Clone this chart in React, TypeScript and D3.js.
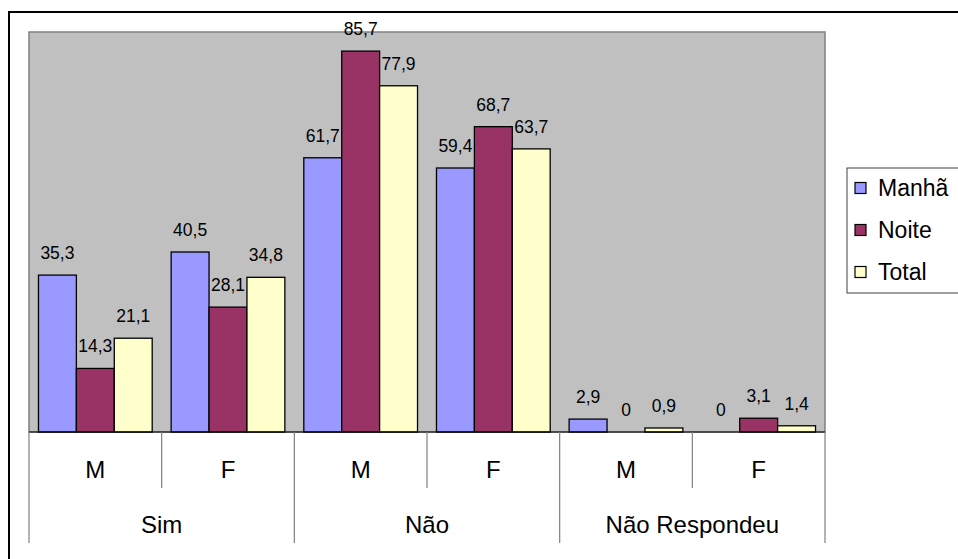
import React from "react";
import * as d3 from "d3";

const subCategories = ["M", "F", "M", "F", "M", "F"];
const groups = ["Sim", "Não", "Não Respondeu"];
const seriesNames = ["Manhã", "Noite", "Total"];
const manha = [35.3, 40.5, 61.7, 59.4, 2.9, 0];
const noite = [14.3, 28.1, 85.7, 68.7, 0, 3.1];
const total = [21.1, 34.8, 77.9, 63.7, 0.9, 1.4];
const seriesColors = ["#9999FF", "#993366", "#FFFFCC"];
const yMax = 90;

const FONT = "'Liberation Sans', Arial, sans-serif";

function fmt(v: number) {
  if (v === 0) return "0";
  return v.toFixed(1).replace(".", ",");
}

export default function App() {
  const W = 958;
  const H = 559;
  const plot = { x0: 29, x1: 825, y0: 32, y1: 432 };
  const series = [manha, noite, total];

  const x = d3
    .scaleBand<number>()
    .domain(subCategories.map((_, i) => i))
    .range([plot.x0, plot.x1])
    .padding(0);
  const bw = x.bandwidth();
  const barW = bw / 3.5;
  const xs = d3
    .scaleBand<number>()
    .domain([0, 1, 2])
    .range([barW * 0.25, bw - barW * 0.25])
    .padding(0);
  const y = d3.scaleLinear().domain([0, yMax]).range([plot.y1, plot.y0]);

  const groupW = (plot.x1 - plot.x0) / groups.length;

  return (
    <svg
      width={W}
      height={H}
      style={{ position: "absolute", left: 0, top: 0, fontFamily: FONT }}
    >
      <rect x={0} y={0} width={W} height={H} fill="#fff" />
      {/* outer chart border */}
      <rect x={9} y={12} width={1100} height={700} fill="none" stroke="#000" strokeWidth={2} />
      {/* plot area */}
      <rect
        x={plot.x0}
        y={plot.y0}
        width={plot.x1 - plot.x0}
        height={plot.y1 - plot.y0}
        fill="#C0C0C0"
        stroke="#808080"
        strokeWidth={1.5}
      />
      {/* bars */}
      {series.map((vals, si) =>
        vals.map((v, ci) => {
          if (v === 0) return null;
          const bx = (x(ci) as number) + (xs(si) as number);
          const by = y(v);
          return (
            <rect
              key={`b${si}-${ci}`}
              x={bx}
              y={by}
              width={xs.bandwidth()}
              height={plot.y1 - by}
              fill={seriesColors[si]}
              stroke="#000"
              strokeWidth={1.3}
            />
          );
        })
      )}
      {/* data labels */}
      {series.map((vals, si) =>
        vals.map((v, ci) => {
          const cx = (x(ci) as number) + (xs(si) as number) + xs.bandwidth() / 2;
          return (
            <text
              key={`l${si}-${ci}`}
              x={cx}
              y={y(v) - 16}
              textAnchor="middle"
              fontSize={17.5}
              fill="#000"
            >
              {fmt(v)}
            </text>
          );
        })
      )}
      {/* baseline */}
      <line x1={plot.x0} x2={plot.x1} y1={plot.y1} y2={plot.y1} stroke="#000" strokeWidth={1.2} />
      {/* category separators */}
      {d3.range(subCategories.length + 1).map((i) => {
        const xx = plot.x0 + i * bw;
        const isGroup = i % 2 === 0;
        return (
          <line
            key={`s${i}`}
            x1={xx}
            x2={xx}
            y1={plot.y1}
            y2={isGroup ? 543 : 488}
            stroke="#808080"
            strokeWidth={1.2}
          />
        );
      })}
      {subCategories.map((c, i) => (
        <text
          key={`c${i}`}
          x={(x(i) as number) + bw / 2}
          y={478}
          textAnchor="middle"
          fontSize={24}
          fill="#000"
        >
          {c}
        </text>
      ))}
      {groups.map((g, i) => (
        <text
          key={`g${i}`}
          x={plot.x0 + groupW * (i + 0.5)}
          y={533}
          textAnchor="middle"
          fontSize={24}
          fill="#000"
        >
          {g}
        </text>
      ))}
      {/* legend */}
      <rect x={847} y={168} width={200} height={125} fill="#fff" stroke="#404040" strokeWidth={1} />
      {seriesNames.map((n, i) => {
        const cy = 188 + i * 42;
        return (
          <g key={`lg${i}`}>
            <rect x={855} y={cy - 5.5} width={11} height={11} fill={seriesColors[i]} stroke="#000" strokeWidth={1.2} />
            <text x={878} y={cy + 8} fontSize={23} fill="#000">
              {n}
            </text>
          </g>
        );
      })}
    </svg>
  );
}
